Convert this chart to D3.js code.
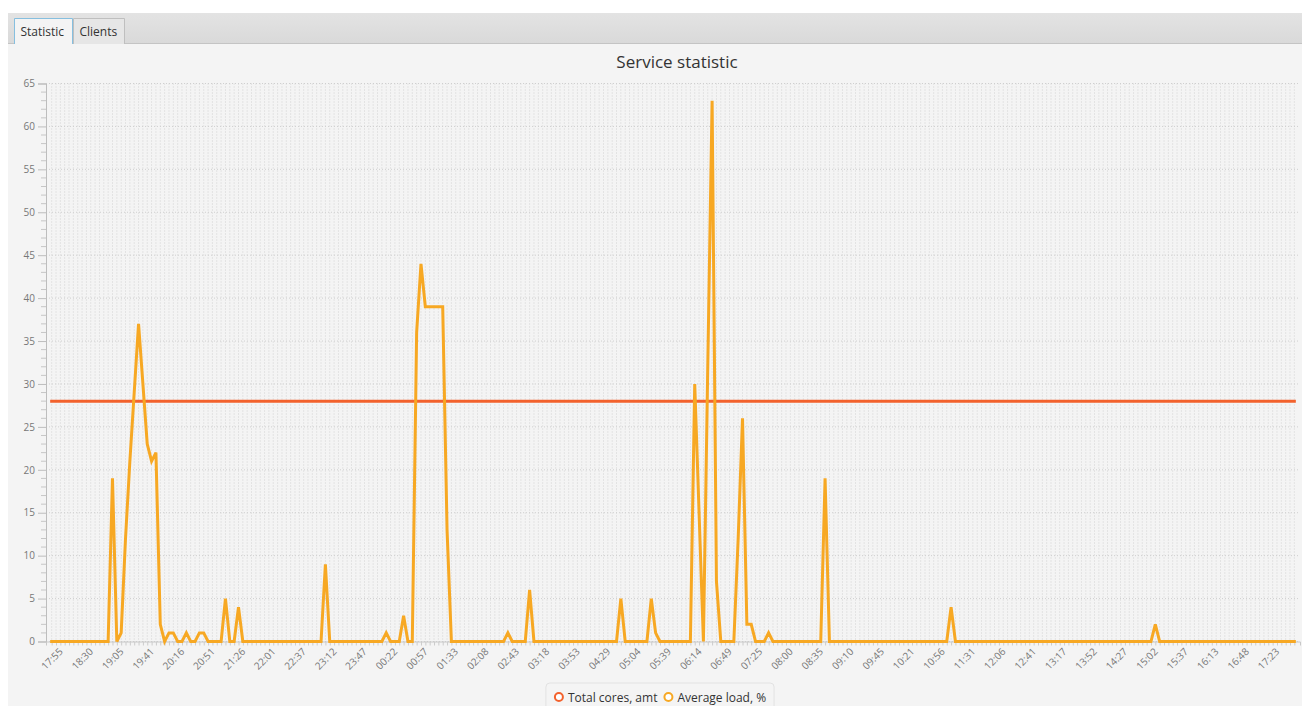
<!DOCTYPE html>
<html><head><meta charset="utf-8">
<script src="https://cdn.jsdelivr.net/npm/d3@7/dist/d3.min.js"></script>
<style>
html,body{margin:0;padding:0;background:#ffffff;}
svg{display:block;font-family:"Open Sans","Noto Sans",sans-serif;}
</style></head><body>
<svg id="chart" width="1302" height="706"></svg>
<script>
// ---- data ----
const tabNames = ["Statistic", "Clients"];
const chartTitle = "Service statistic";
const seriesNames = ["Total cores, amt", "Average load, %"];
const seriesColors = ["#f3622d", "#f7a823"];

// labels shown on the category axis (every 7th sample)
const tickLabels = ["17:55","18:30","19:05","19:41","20:16","20:51","21:26","22:01","22:37","23:12",
  "23:47","00:22","00:57","01:33","02:08","02:43","03:18","03:53","04:29","05:04",
  "05:39","06:14","06:49","07:25","08:00","08:35","09:10","09:45","10:21","10:56",
  "11:31","12:06","12:41","13:17","13:52","14:27","15:02","15:37","16:13","16:48","17:23"];
const labelEvery = 7;

// Average load, % (one value per sample)
const loadValues = [
  0,0,0,0,0,0,0,0,0,0, 0,0,0,0,19,0,1,12,21,29,
  37,30,23,21,22,2,0,1,1,0, 0,1,0,0,1,1,0,0,0,0,
  5,0,0,4,0,0,0,0,0,0, 0,0,0,0,0,0,0,0,0,0,
  0,0,0,9,0,0,0,0,0,0, 0,0,0,0,0,0,0,1,0,0,
  0,3,0,0,36,44,39,39,39,39, 39,13,0,0,0,0,0,0,0,0,
  0,0,0,0,0,1,0,0,0,0, 6,0,0,0,0,0,0,0,0,0,
  0,0,0,0,0,0,0,0,0,0, 0,5,0,0,0,0,0,0,5,1,
  0,0,0,0,0,0,0,0,30,15, 0,32,63,7,0,0,0,0,12,26,
  2,2,0,0,0,1,0,0,0,0, 0,0,0,0,0,0,0,0,19,0,
  0,0,0,0,0,0,0,0,0,0, 0,0,0,0,0,0,0,0,0,0,
  0,0,0,0,0,0,0,4,0,0, 0,0,0,0,0,0,0,0,0,0,
  0,0,0,0,0,0,0,0,0,0, 0,0,0,0,0,0,0,0,0,0,
  0,0,0,0,0,0,0,0,0,0, 0,0,0,0,2,0,0,0,0,0,
  0,0,0,0,0,0,0,0,0,0, 0,0,0,0,0,0,0,0,0,0,
  0,0,0,0,0,0,0
];
// Total cores, amt (one value per sample)
const coresValues = [
  28,28,28,28,28,28,28,28,28,28, 28,28,28,28,28,28,28,28,28,28,
  28,28,28,28,28,28,28,28,28,28, 28,28,28,28,28,28,28,28,28,28,
  28,28,28,28,28,28,28,28,28,28, 28,28,28,28,28,28,28,28,28,28,
  28,28,28,28,28,28,28,28,28,28, 28,28,28,28,28,28,28,28,28,28,
  28,28,28,28,28,28,28,28,28,28, 28,28,28,28,28,28,28,28,28,28,
  28,28,28,28,28,28,28,28,28,28, 28,28,28,28,28,28,28,28,28,28,
  28,28,28,28,28,28,28,28,28,28, 28,28,28,28,28,28,28,28,28,28,
  28,28,28,28,28,28,28,28,28,28, 28,28,28,28,28,28,28,28,28,28,
  28,28,28,28,28,28,28,28,28,28, 28,28,28,28,28,28,28,28,28,28,
  28,28,28,28,28,28,28,28,28,28, 28,28,28,28,28,28,28,28,28,28,
  28,28,28,28,28,28,28,28,28,28, 28,28,28,28,28,28,28,28,28,28,
  28,28,28,28,28,28,28,28,28,28, 28,28,28,28,28,28,28,28,28,28,
  28,28,28,28,28,28,28,28,28,28, 28,28,28,28,28,28,28,28,28,28,
  28,28,28,28,28,28,28,28,28,28, 28,28,28,28,28,28,28,28,28,28,
  28,28,28,28,28,28,28
];
const yMax = 65, yMajor = 5, yMinor = 1;

// ---- layout ----
const W = 1302, H = 706;
const plot = {left: 46, right: 1300, top: 83.5, bottom: 641.5};
const svg = d3.select("#chart");

// tab pane background
svg.append("rect").attr("x", 8).attr("y", 13).attr("width", W - 8).attr("height", H - 13).attr("fill", "#f4f4f4");
const defs = svg.append("defs");
const hg = defs.append("linearGradient").attr("id", "hdr").attr("x1", 0).attr("y1", 0).attr("x2", 0).attr("y2", 1);
hg.append("stop").attr("offset", "0%").attr("stop-color", "#e3e3e3");
hg.append("stop").attr("offset", "100%").attr("stop-color", "#d9d9d9");
svg.append("rect").attr("x", 8).attr("y", 13).attr("width", W - 8).attr("height", 31).attr("fill", "url(#hdr)");
svg.append("line").attr("x1", 8).attr("x2", W).attr("y1", 43.5).attr("y2", 43.5).attr("stroke", "#c4c4c4");

// tabs
const tabs = svg.append("g");
const tabX = [14.5, 73.5], tabW = [58, 51];
tabNames.forEach((t, i) => {
  const sel = i === 0;
  tabs.append("path")
    .attr("d", `M${tabX[i]},44 V18.5 H${tabX[i] + tabW[i]} V44`)
    .attr("fill", sel ? "#f4f4f4" : "#e6e6e6")
    .attr("stroke", sel ? "#86bfdf" : "#bfbfbf");
  tabs.append("text").attr("x", tabX[i] + 6).attr("y", 36)
    .attr("font-size", 12).attr("fill", "#333").text(t);
});

// title
svg.append("text").attr("x", 677).attr("y", 68).attr("text-anchor", "middle")
  .attr("font-size", 17).attr("fill", "#333").text(chartTitle);

// scales
const idx = d3.range(loadValues.length);
const x = d3.scalePoint().domain(idx).range([plot.left, plot.right]).padding(1.3);
const y = d3.scaleLinear().domain([0, yMax]).range([plot.bottom, plot.top]);

// grid
const grid = svg.append("g");
grid.selectAll("line.v").data(idx).join("line")
  .attr("x1", d => x(d)).attr("x2", d => x(d))
  .attr("y1", plot.top).attr("y2", plot.bottom)
  .attr("stroke", "#d2d2d2").attr("stroke-dasharray", "1 2");
grid.selectAll("line.h").data(d3.range(0, yMax + 1, yMajor)).join("line")
  .attr("x1", plot.left).attr("x2", plot.right)
  .attr("y1", d => y(d)).attr("y2", d => y(d))
  .attr("stroke", "#cfcfcf").attr("stroke-dasharray", "1 2");

// y axis
const yAxis = svg.append("g").attr("transform", `translate(${plot.left},0)`)
  .call(d3.axisLeft(y).tickValues(d3.range(0, yMax + 1, yMajor)).tickSize(8).tickPadding(3));
yAxis.select(".domain").attr("stroke", "#bdbdbd");
yAxis.selectAll(".tick line").attr("stroke", "#bdbdbd");
yAxis.selectAll(".tick text").attr("font-size", 10).attr("fill", "#777").attr("font-family", "Open Sans");
const minorVals = d3.range(0, yMax + 1, yMinor).filter(v => v % yMajor !== 0);
svg.append("g").selectAll("line").data(minorVals).join("line")
  .attr("x1", plot.left - 5).attr("x2", plot.left)
  .attr("y1", d => y(d)).attr("y2", d => y(d)).attr("stroke", "#c6c6c6");

// x axis (category ticks at every sample, labels every 7th)
const xAxis = svg.append("g").attr("transform", `translate(0,${plot.bottom})`)
  .call(d3.axisBottom(x).tickSize(4).tickFormat(() => ""));
xAxis.select(".domain").attr("stroke", "#c8c8c8");
xAxis.selectAll(".tick line").attr("stroke", "#cccccc");
svg.append("g").selectAll("text").data(tickLabels).join("text")
  .attr("transform", (d, i) => `translate(${x(i * labelEvery)},${plot.bottom + 17}) rotate(-45)`)
  .attr("text-anchor", "middle").attr("dominant-baseline", "central")
  .attr("font-size", 10).attr("fill", "#777").text(d => d);

// lines
const line = d3.line().x((d, i) => x(i)).y(d => y(d));
svg.append("path").datum(coresValues).attr("d", line)
  .attr("fill", "none").attr("stroke", seriesColors[0]).attr("stroke-width", 3).attr("stroke-linecap", "square");
svg.append("path").datum(loadValues).attr("d", line)
  .attr("fill", "none").attr("stroke", seriesColors[1]).attr("stroke-width", 3).attr("stroke-linecap", "square");

// legend
const lg = svg.append("g");
const box = lg.append("rect").attr("fill", "none").attr("stroke", "#e2e2e2").attr("rx", 4);
let cx = 0;
const items = [];
seriesNames.forEach((n, i) => {
  const g = lg.append("g").attr("transform", `translate(${cx},0)`);
  g.append("circle").attr("cx", 5).attr("cy", 0).attr("r", 4)
    .attr("fill", "#fff").attr("stroke", seriesColors[i]).attr("stroke-width", 2);
  const t = g.append("text").attr("x", 14).attr("y", 4.5).attr("font-size", 12).attr("fill", "#333").text(n);
  const w = t.node().getComputedTextLength();
  cx += 14 + w + 6;
});
const totalW = cx - 6;
lg.attr("transform", `translate(${660 - totalW / 2},697)`);
box.attr("x", -8).attr("y", -14).attr("width", totalW + 16).attr("height", 30);
</script>
</body></html>
